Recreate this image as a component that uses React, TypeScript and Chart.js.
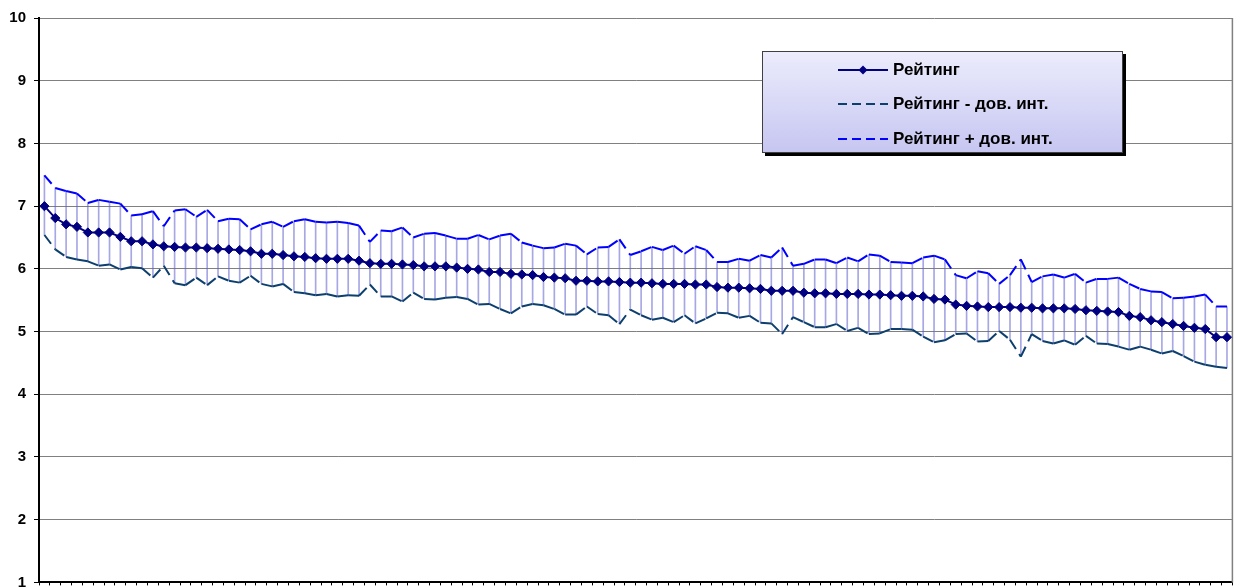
import React, { useEffect, useRef } from "react";
import { Chart, registerables } from "chart.js";

Chart.register(...registerables);

const categories: string[] = Array.from({ length: 110 }, (_, i) => String(i + 1));

const rating: number[] = [
  7.0, 6.81, 6.71, 6.67, 6.58, 6.58, 6.58, 6.51, 6.44, 6.44, 6.39, 6.36, 6.35, 6.34, 6.34, 6.33, 6.32, 6.31, 6.3, 6.28, 6.24, 6.24, 6.22, 6.2,
  6.19, 6.17, 6.16, 6.16, 6.16, 6.13, 6.09, 6.08, 6.08, 6.07, 6.06, 6.04, 6.04, 6.04, 6.02, 6.0, 5.99, 5.95, 5.95, 5.92, 5.91, 5.9, 5.87, 5.86, 5.85, 5.81, 5.81, 5.8,
  5.8, 5.79, 5.78, 5.78, 5.77, 5.76, 5.76, 5.76, 5.75, 5.75, 5.71, 5.7, 5.7, 5.69, 5.68, 5.65, 5.65, 5.65, 5.62, 5.61, 5.61, 5.6, 5.6, 5.6, 5.59, 5.59, 5.58,
  5.57, 5.57, 5.56, 5.52, 5.51, 5.43, 5.41, 5.4, 5.39, 5.39, 5.39, 5.38, 5.38, 5.37, 5.37, 5.37, 5.36, 5.34, 5.33, 5.32, 5.31, 5.25, 5.23, 5.18, 5.15, 5.12, 5.09, 5.06, 5.04, 4.91, 4.91,
];

const upperCI: number[] = [
  7.49, 7.29, 7.24, 7.2, 7.05, 7.1, 7.07, 7.04, 6.85, 6.87, 6.92, 6.68, 6.93, 6.95, 6.83, 6.94, 6.76, 6.8, 6.79, 6.63, 6.71, 6.75, 6.67, 6.76,
  6.79, 6.75, 6.74, 6.75, 6.73, 6.69, 6.43, 6.61, 6.6, 6.66, 6.5, 6.56, 6.57, 6.53, 6.48, 6.48, 6.54, 6.47, 6.53, 6.56, 6.42, 6.37, 6.33, 6.34, 6.4, 6.37, 6.23, 6.34,
  6.35, 6.47, 6.22, 6.28, 6.35, 6.3, 6.37, 6.24, 6.36, 6.3, 6.11, 6.11, 6.16, 6.13, 6.22, 6.18, 6.34, 6.05, 6.08, 6.15, 6.15, 6.09, 6.18, 6.12, 6.23, 6.21, 6.11,
  6.1, 6.09, 6.18, 6.21, 6.15, 5.9, 5.85, 5.96, 5.93, 5.76, 5.9, 6.15, 5.79, 5.88, 5.91, 5.86, 5.92, 5.78, 5.84, 5.84, 5.86, 5.76, 5.68, 5.64, 5.63, 5.53, 5.54, 5.56, 5.59, 5.4, 5.4,
];

const lowerCI: number[] = [
  6.54, 6.31, 6.19, 6.15, 6.12, 6.05, 6.07, 5.99, 6.03, 6.01, 5.86, 6.05, 5.77, 5.74, 5.86, 5.74, 5.88, 5.81, 5.78, 5.89, 5.76, 5.72, 5.76, 5.63,
  5.61, 5.58, 5.6, 5.56, 5.58, 5.57, 5.75, 5.56, 5.56, 5.48, 5.62, 5.52, 5.51, 5.54, 5.55, 5.52, 5.43, 5.44, 5.36, 5.29, 5.4, 5.44, 5.42, 5.36, 5.27, 5.27, 5.4, 5.28,
  5.26, 5.12, 5.35, 5.26, 5.19, 5.22, 5.15, 5.26, 5.13, 5.21, 5.3, 5.29, 5.22, 5.25, 5.14, 5.13, 4.96, 5.23, 5.15, 5.07, 5.07, 5.12, 5.01, 5.06, 4.96, 4.97, 5.04,
  5.04, 5.03, 4.92, 4.83, 4.86, 4.96, 4.97, 4.84, 4.85, 5.01, 4.87, 4.6, 4.96, 4.85, 4.81, 4.86, 4.79, 4.93, 4.81, 4.8, 4.76, 4.71, 4.76, 4.71, 4.65, 4.69, 4.61, 4.52, 4.47, 4.44, 4.42,
];

const yMin = 1;
const yMax = 10;

const seriesNames = ["Рейтинг", "Рейтинг - дов. инт.", "Рейтинг + дов. инт."];

const FONT = "'Liberation Sans', Arial, sans-serif";
const NAVY = "#000080";
const LOWER_COLOR = "#0d3f6e";
const UPPER_COLOR = "#0000ff";

const framePlugin = {
  id: "frame",
  beforeDatasetsDraw(chart: any) {
    const { ctx, chartArea } = chart;
    ctx.save();
    ctx.strokeStyle = "#808080";
    ctx.lineWidth = 1.5;
    ctx.beginPath();
    ctx.moveTo(chartArea.right, chartArea.top);
    ctx.lineTo(chartArea.right, chartArea.bottom);
    ctx.stroke();
    ctx.restore();
  },
};

export default function App() {
  const ref = useRef<HTMLCanvasElement>(null);

  useEffect(() => {
    const segmentRestart = {
      borderDashOffset: (c: any) => (c.p0DataIndex % 2 ? 0.001 : 0),
    };
    const chart = new Chart(ref.current as HTMLCanvasElement, {
      type: "line",
      data: {
        labels: categories,
        datasets: [
          {
            type: "line",
            label: seriesNames[0],
            data: rating,
            borderColor: NAVY,
            backgroundColor: NAVY,
            borderWidth: 2,
            pointStyle: "rectRot",
            pointRadius: 4.6,
            pointBorderWidth: 1,
            pointBorderColor: NAVY,
            pointBackgroundColor: NAVY,
            tension: 0,
            order: 0,
          },
          {
            type: "line",
            label: seriesNames[2],
            data: upperCI,
            borderColor: UPPER_COLOR,
            borderWidth: 2,
            borderDash: [11, 6],
            borderCapStyle: "butt",
            pointRadius: 0,
            tension: 0,
            segment: segmentRestart,
            order: 1,
          },
          {
            type: "line",
            label: seriesNames[1],
            data: lowerCI,
            borderColor: LOWER_COLOR,
            borderWidth: 2,
            borderDash: [11, 6],
            borderCapStyle: "butt",
            pointRadius: 0,
            tension: 0,
            segment: segmentRestart,
            order: 2,
          },
          {
            type: "bar",
            label: "hl",
            data: lowerCI.map((l, i) => [l, upperCI[i]]),
            backgroundColor: "rgba(95,95,205,0.55)",
            borderWidth: 0,
            barThickness: 1,
            order: 3,
          } as any,
        ],
      },
      options: {
        responsive: false,
        animation: false,
        devicePixelRatio: 1,
        layout: { padding: { left: 0, right: 2, top: 18, bottom: 0 } },
        plugins: {
          legend: { display: false },
          tooltip: { enabled: false },
        },
        scales: {
          x: {
            type: "category",
            offset: true,
            grid: {
              display: true,
              offset: true,
              drawOnChartArea: false,
              drawTicks: true,
              tickLength: 3,
              tickColor: "#000",
              tickWidth: 1,
            },
            border: { display: true, color: "#000", width: 2 },
            ticks: { display: false, autoSkip: false },
            afterFit: (s: any) => {
              s.paddingLeft = 0;
              s.paddingRight = 0;
            },
          },
          y: {
            min: yMin,
            max: yMax,
            ticks: {
              stepSize: 1,
              color: "#000",
              padding: 8,
              font: { family: FONT, size: 15, weight: "bold" },
            },
            grid: {
              color: "#808080",
              lineWidth: 1,
              tickColor: "#000",
              tickLength: 5,
            },
            border: { display: true, color: "#000", width: 2 },
            afterFit: (s: any) => {
              s.width = 39;
              s.paddingTop = 0;
              s.paddingBottom = 0;
            },
          },
        },
      },
      plugins: [framePlugin],
    } as any);
    return () => chart.destroy();
  }, []);

  const rowStyle = (top: number): React.CSSProperties => ({
    position: "absolute",
    left: 0,
    top: top - 10,
    height: 20,
    width: "100%",
  });
  const textStyle: React.CSSProperties = {
    position: "absolute",
    left: 130,
    top: 0,
    lineHeight: "20px",
    font: `bold 17px ${FONT}`,
    color: "#000",
    whiteSpace: "nowrap",
  };

  return (
    <div
      style={{
        position: "fixed",
        left: 0,
        top: 0,
        width: 1238,
        height: 588,
        background: "#fff",
        overflow: "hidden",
      }}
    >
      <canvas ref={ref} width={1238} height={588} style={{ display: "block" }} />
      <div
        style={{
          position: "absolute",
          left: 762,
          top: 51,
          width: 361,
          height: 102,
          boxSizing: "border-box",
          border: "1px solid #404040",
          boxShadow: "3px 3px 0 #000",
          background: "linear-gradient(#ececfc, #c6c6f2)",
        }}
      >
        <div style={rowStyle(18)}>
          <svg style={{ position: "absolute", left: 74, top: 0 }} width={52} height={20}>
            <line x1={1} y1={10} x2={51} y2={10} stroke={NAVY} strokeWidth={2} />
            <polygon points="26,5.5 30.5,10 26,14.5 21.5,10" fill={NAVY} />
          </svg>
          <span style={textStyle}>{seriesNames[0]}</span>
        </div>
        <div style={rowStyle(52)}>
          <svg style={{ position: "absolute", left: 74, top: 0 }} width={52} height={20}>
            <line x1={1} y1={10} x2={51} y2={10} stroke={LOWER_COLOR} strokeWidth={2} strokeDasharray="9 5" />
          </svg>
          <span style={textStyle}>{seriesNames[1]}</span>
        </div>
        <div style={rowStyle(87)}>
          <svg style={{ position: "absolute", left: 74, top: 0 }} width={52} height={20}>
            <line x1={1} y1={10} x2={51} y2={10} stroke={UPPER_COLOR} strokeWidth={2} strokeDasharray="9 5" />
          </svg>
          <span style={textStyle}>{seriesNames[2]}</span>
        </div>
      </div>
    </div>
  );
}
